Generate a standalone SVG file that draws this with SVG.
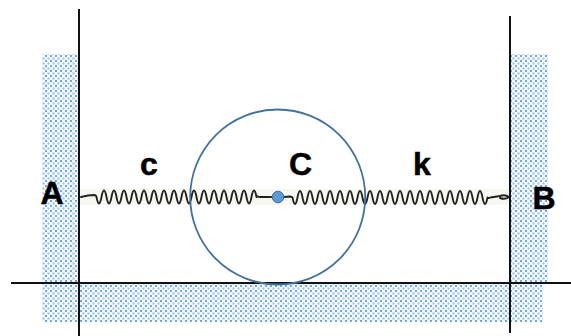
<svg xmlns="http://www.w3.org/2000/svg" width="571" height="336" viewBox="0 0 571 336">
<style>
.wall{fill:url(#dots)}
.line{stroke:#111;stroke-width:2;fill:none}
.spring{stroke:#222;stroke-width:1.900;fill:none;stroke-linecap:round;stroke-linejoin:round}
.lbl{font-family:"Liberation Sans",Arial,sans-serif;font-weight:bold;font-size:32px;fill:#000;stroke:#000;stroke-width:0.500;text-anchor:middle}
</style>
<defs>
<pattern id="dots" width="5" height="5" patternUnits="userSpaceOnUse">
<rect width="5" height="5" fill="#eef5fb"/>
<rect x="0" y="0" width="2" height="2" fill="#6fa8dc"/>
<rect x="2.500" y="2.500" width="2" height="2" fill="#9cc4e8"/>
<rect x="2.500" y="0" width="2" height="2" fill="#fff"/>
<rect x="0" y="2.500" width="2" height="2" fill="#fff"/>
</pattern>
</defs>
<rect width="571" height="336" fill="#fff"/>
<g id="walls">
<rect class="wall" x="42" y="54" width="37" height="268"/>
<rect class="wall" x="79" y="284" width="464" height="38"/>
<rect class="wall" x="510" y="54" width="38" height="230"/>
</g>
<rect id="strip" x="80" y="189" width="430" height="16" fill="#f7f7f2"/>
<g id="connectors">
<path class="spring" d="M81 197L88 195.500L94 195q2 0 2.500 2q2.500 13 5 0t5 0t5 0t5 0t5 0t5 0t5 0t5 0t5 0t5 0t5 0t5 0t5 0t5 0t5 0t5 0t5 0t5 0t5 0t5 0t5 0t5 0t5 0t5 0t5 0t5 0t5 0t5 0t5 0t5 0t5 0t5 0q1 -1 3 0L272 197"/>
<path class="spring" d="M284 197L290 196.500q2 0 2.500 1q2.500 13 5 0t5 0t5 0t5 0t5 0t5 0t5 0t5 0t5 0t5 0t5 0t5 0t5 0t5 0t5 0t5 0t5 0t5 0t5 0t5 0t5 0t5 0t5 0t5 0t5 0t5 0t5 0t5 0t5 0t5 0t5 0t5 0t5 0t5 0t5 0t5 0t5 0t5 0t5 0q1 1 3 0L500 196q5 -2 9 1q-4 3 -9 1"/>
</g>
<g id="frame">
<line class="line" x1="79" y1="9" x2="79" y2="336"/>
<line class="line" x1="510" y1="16" x2="510" y2="333"/>
<line class="line" x1="11" y1="283" x2="571" y2="283"/>
</g>
<g id="wheel"><circle cx="277.700" cy="197" r="87.500" fill="none" stroke="#41719c" stroke-width="1.800"/></g>
<g id="center"><circle cx="278" cy="197" r="5.800" fill="#5b9bd5" stroke="#41719c" stroke-width="1"/></g>
<g id="labels">
<text class="lbl" x="52" y="204">A</text>
<text class="lbl" x="544" y="209">B</text>
<text class="lbl" x="149" y="175">c</text>
<text class="lbl" x="300.500" y="175">C</text>
<text class="lbl" x="422" y="175">k</text>
</g>
</svg>
